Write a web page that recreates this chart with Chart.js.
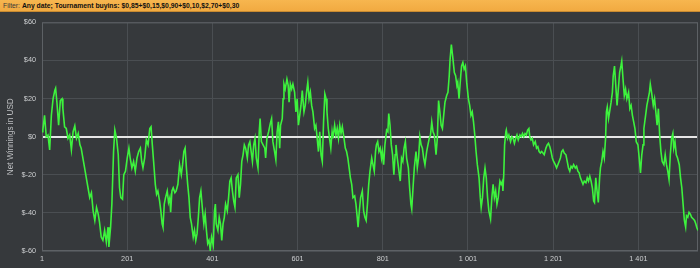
<!DOCTYPE html>
<html>
<head>
<meta charset="utf-8">
<script src="https://cdn.jsdelivr.net/npm/chart.js@4"></script>
<style>
  html, body { margin: 0; padding: 0; background: #36393c; }
  #filter {
    height: 11px;
    border-bottom: 1px solid #c88a30;
    background: linear-gradient(#f7b64f, #f1aa41);
    font-family: "Liberation Sans", Arial, sans-serif;
    font-size: 6.8px;
    line-height: 11px;
    padding-left: 3px;
    color: #111;
    white-space: nowrap;
    overflow: hidden;
  }
  #filter span { color: #3a3a3a; }
  #filter b { font-weight: 700; }
</style>
</head>
<body>
<div id="filter"><span>Filter:</span> <b>Any date; Tournament buyins: $0,85+$0,15,$0,90+$0,10,$2,70+$0,30</b></div>
<canvas id="chart" width="700" height="256"></canvas>
<script>
// game number and net winnings (USD)
const games = [
  1, 3, 7, 11, 15, 19, 23, 27, 31, 33, 36, 40, 44, 48, 50, 54, 58, 62, 66, 70,
  74, 78, 82, 86, 90, 93, 97, 101, 105, 109, 113, 117, 121, 125, 129, 133, 136, 140, 144, 148,
  152, 156, 158, 162, 165, 169, 172, 176, 180, 183, 186, 190, 193, 197, 201, 205, 208, 212, 216, 220,
  224, 228, 232, 235, 238, 242, 246, 250, 254, 257, 260, 263, 267, 270, 273, 277, 280, 283, 285, 288,
  291, 295, 298, 301, 303, 306, 309, 313, 316, 320, 324, 328, 331, 334, 337, 340, 343, 346, 349, 352,
  356, 359, 362, 365, 368, 371, 374, 378, 381, 384, 387, 390, 393, 396, 399, 403, 406, 408, 410, 414,
  417, 420, 423, 426, 429, 432, 436, 439, 442, 445, 448, 451, 454, 457, 461, 464, 467, 470, 473, 476,
  479, 483, 486, 489, 492, 495, 498, 501, 504, 508, 511, 513, 516, 520, 524, 526, 529, 533, 537, 540,
  543, 547, 550, 553, 556, 559, 561, 565, 567, 569, 572, 576, 579, 581, 584, 587, 590, 594, 597, 600,
  603, 606, 609, 612, 616, 619, 622, 625, 628, 631, 634, 637, 641, 644, 647, 650, 653, 656, 659, 662,
  665, 668, 670, 673, 677, 679, 682, 684, 688, 691, 694, 697, 700, 703, 706, 710, 713, 716, 719, 722,
  725, 728, 731, 735, 738, 741, 743, 746, 749, 753, 756, 759, 762, 765, 768, 771, 775, 778, 781, 784,
  786, 789, 792, 795, 798, 800, 803, 806, 810, 813, 815, 818, 821, 824, 827, 830, 832, 835, 839, 842,
  845, 848, 851, 854, 857, 861, 864, 867, 869, 872, 875, 879, 882, 885, 888, 891, 894, 897, 900, 904,
  907, 910, 913, 916, 919, 922, 926, 929, 932, 935, 938, 941, 944, 947, 951, 954, 957, 959, 962, 965,
  969, 972, 975, 977, 980, 984, 986, 989, 992, 995, 998, 1002, 1005, 1008, 1011, 1014, 1017, 1020, 1023, 1027,
  1030, 1032, 1035, 1038, 1041, 1044, 1047, 1050, 1054, 1057, 1060, 1063, 1066, 1069, 1072, 1076, 1079, 1082, 1083, 1085,
  1087, 1090, 1091, 1094, 1097, 1101, 1104, 1107, 1110, 1113, 1116, 1119, 1123, 1126, 1129, 1132, 1135, 1138, 1141, 1144,
  1146, 1149, 1152, 1155, 1159, 1162, 1165, 1168, 1171, 1174, 1177, 1180, 1184, 1187, 1190, 1193, 1196, 1199, 1202, 1206,
  1209, 1212, 1215, 1218, 1221, 1224, 1227, 1231, 1234, 1237, 1240, 1243, 1246, 1249, 1253, 1256, 1259, 1262, 1265, 1268,
  1271, 1274, 1278, 1281, 1284, 1287, 1290, 1293, 1296, 1298, 1301, 1304, 1307, 1310, 1312, 1315, 1318, 1321, 1324, 1326,
  1328, 1331, 1334, 1337, 1340, 1342, 1345, 1348, 1351, 1354, 1357, 1360, 1362, 1365, 1368, 1371, 1374, 1378, 1381, 1384,
  1387, 1390, 1393, 1396, 1400, 1403, 1406, 1409, 1412, 1414, 1418, 1421, 1424, 1427, 1429, 1432, 1436, 1439, 1442, 1445,
  1448, 1451, 1454, 1457, 1461, 1464, 1467, 1470, 1473, 1476, 1479, 1482, 1484, 1487, 1490, 1493, 1497, 1500, 1503, 1506,
  1509, 1512, 1514, 1517, 1520, 1523, 1526, 1530, 1533, 1536, 1538, 1541
];
const net = [
  2.6, 3.5, 11.2, 0, 0.9, -6.9, 11.2, 19.9, 24.2, 25.4, 18.1, 6, 19, 19.9, 14.7, 5.2, 4.3, -0.9, 0.9, -6.9,
  2.6, 5.7, -0.9, 1.7, -4.3, -6, -11.2, -16.4, -21.6, -26.8, -32, -29.4, -38.9, -44, -37.1, -40.6, -44.9, -52.7, -54.4, -49.2,
  -55.3, -47.5, -57.9, -47.5, -35.4, -7.8, 3.5, -0.9, -9.5, -26.8, -32, -32.8, -19.9, -18.1, -11.2, -6, -11.2, -16.4, -13, -18.1,
  -11.2, -7.8, -6, -13, -16.4, -11.2, -1.7, -4.3, 4.3, 5.2, -4.3, -13, -25, -30.2, -28.5, -33.7, -38.9, -45.8, -47.5, -35.4,
  -32, -28.5, -34.5, -32, -39.7, -28.5, -26.8, -29.4, -28.5, -25, -14.7, -19.9, -14.7, -7.8, -6, -16.4, -25, -32, -42.3, -45.8,
  -52.7, -49.2, -54.4, -50.9, -42.3, -32, -28.5, -38.9, -45.8, -40.6, -49.2, -56.1, -54.4, -59.6, -52.7, -57, -38.9, -35.4, -45.8, -49.2,
  -42.3, -45.8, -54.4, -45.8, -42.3, -35.4, -38.9, -32, -23.3, -21.6, -28.5, -33.7, -37.1, -21.6, -19.9, -32, -25, -13, -9.5, -4.3,
  -6, -11.2, -4.3, -2.6, -7.8, -13, -4.3, -0.9, -11.2, -16.4, 2.6, 9.5, -2.6, -4.3, -6, -11.2, -0.9, 2.6, 6.9, 9.5,
  -2.6, -7.8, -12.1, 2.6, 7.8, -6, 6, 9.5, 19.9, 27.6, 25, 30.2, 26.8, 18.1, 27.6, 25, 27.6, 23.3, 13, 19.9,
  6, 11.2, 16.4, 24.2, 13, 16.4, 23.3, 28.5, 19.9, 23.3, 16.4, 13, 4.3, 6, -0.9, -7.8, 2.6, -9.5, -13, 7.8,
  22.5, 19.9, 13, 4.3, -2.6, -6, 2.6, -0.9, 6, 0.9, 4.3, -0.9, 6, 1.7, 5.2, -0.9, -6, -7.8, -11.2, -16.4,
  -21.6, -25, -32, -31.1, -35.4, -42.3, -47.5, -38.9, -32, -28.5, -38.9, -42.3, -44, -35.4, -25, -18.1, -11.2, -14.7, -18.1, -7.8,
  -4.3, -2.6, -7.8, -6, -11.2, -7.8, -14.7, -4.3, 3.5, 2.6, 12.1, 6, -4.3, -9.5, -19.9, -9.5, -4.3, -11.2, -18.1, -23.3,
  -11.2, -13, -6, -2.6, -11.2, -16.4, -26.8, -35.4, -38, -26.8, -16.4, -7.8, -16.4, -11.2, 0, -4.3, -6, -11.2, -14.7, -7.8,
  -4.3, -0.9, 0.9, 7.8, 2.6, 0.9, -9.5, -0.9, 19, 13, 6, 4.3, 11.2, 18.1, 21.6, 23.3, 32, 40.6, 48.4, 42.3,
  33.7, 32, 26.8, 28.5, 19.9, 32, 37.1, 38.9, 35.4, 37.1, 28.5, 19.9, 16.4, 11.2, 13, 7.8, 0.9, -7.8, -14.7, -21.6,
  -32, -37.1, -32, -21.6, -16.4, -21.6, -32, -38.9, -43.2, -32, -25, -32, -28.5, -35.4, -32, -23.3, -25, -23.3, -28.5, -19.9,
  -4.3, 2.6, 3.5, -0.9, 0.9, -2.6, 0, -0.9, -3.5, -0.9, 0.9, -1.7, 0.9, 0, 1.7, 0, 1.7, 0.9, 3.5, 4.3,
  0, -1.7, -0.9, -4.3, -2.6, -6, -5.2, -7.8, -8.6, -7.8, -8.6, -9.5, -6, -4.3, -3.5, -5.2, -7.8, -11.2, -13, -14.7,
  -16.4, -14.7, -13, -11.2, -7.8, -6.9, -8.6, -9.5, -13, -16.4, -18.1, -15.5, -16.4, -14.7, -16.4, -15.5, -18.1, -19, -21.6, -23.3,
  -25, -23.3, -24.2, -21.6, -23.3, -20.7, -23.3, -26.8, -33.7, -34.5, -21.6, -28.5, -34.5, -21.6, -16.4, -13, -7.8, -11.2, -0.9, 13,
  15.5, 9.5, 13.8, 18.1, 23.3, 32, 37.1, 26.8, 16.4, 25, 33.7, 37.1, 39.7, 30.2, 21.6, 25, 19.9, 23.3, 14.7, 16.4,
  11.2, 7.8, 4.3, -2.6, -4.3, -11.2, -19, -9.5, -4.3, 4.3, 11.2, 16.4, 19.9, 23.3, 27.6, 23.3, 16.4, 19.9, 13, 6,
  14.7, 0.9, -7.8, -13, -14.7, -9.5, -14.7, -18.1, -22.5, -9.5, -0.9, 1.7, -6, -2.6, -9.5, -11.2, -14.7, -21.6, -26.8, -35.4,
  -44, -47.5, -41.5, -42.3, -39.7, -40.6, -42.3, -43.2, -44, -45.8, -47.5, -49.2
];
const xTicks = [1, 201, 401, 601, 801, 1001, 1201, 1401];
const xTickLabels = ["1", "201", "401", "601", "801", "1 001", "1 201", "1 401"];
const yTicks = [-60, -40, -20, 0, 20, 40, 60];

const plotFrame = {
  id: "plotFrame",
  beforeDatasetsDraw(chart) {
    const { ctx, chartArea: a } = chart;
    ctx.save();
    ctx.strokeStyle = "#5d6165";
    ctx.lineWidth = 1;
    ctx.strokeRect(a.left + 0.5, a.top + 0.5, a.right - a.left - 1, a.bottom - a.top - 1);
    ctx.restore();
  },
};

const tickFont = { family: "'Liberation Sans', Arial, sans-serif", size: 7.3 };

new Chart(document.getElementById("chart"), {
  type: "line",
  data: {
    datasets: [
      {
        data: games.map((g, i) => ({ x: g, y: net[i] })),
        borderColor: "#3df23d",
        borderWidth: 1.6,
        pointRadius: 0,
        tension: 0,
      },
    ],
  },
  options: {
    responsive: false,
    animation: false,
    layout: { padding: { top: 7, right: 2, left: 0, bottom: 0 } },
    scales: {
      x: {
        type: "linear",
        min: 1,
        max: 1541,
        afterBuildTicks: (scale) => {
          scale.ticks = xTicks.map((v) => ({ value: v }));
        },
        afterFit: (scale) => {
          scale.height = 17;
        },
        ticks: {
          color: "#cdcfd1",
          font: tickFont,
          padding: 4,
          maxRotation: 0,
          autoSkip: false,
          callback: (v) => xTickLabels[xTicks.indexOf(v)],
        },
        grid: { color: "#4a4e52", drawTicks: false },
        border: { display: false },
      },
      y: {
        min: -60,
        max: 60,
        afterBuildTicks: (scale) => {
          scale.ticks = yTicks.map((v) => ({ value: v }));
        },
        afterFit: (scale) => {
          scale.width = 42;
        },
        ticks: {
          color: "#cdcfd1",
          font: tickFont,
          padding: 6,
          callback: (v) => (v < 0 ? "$-" + Math.abs(v) : "$" + v),
        },
        grid: {
          drawTicks: false,
          color: (c) => (c.tick && c.tick.value === 0 ? "#e6e6e6" : "#4a4e52"),
          lineWidth: (c) => (c.tick && c.tick.value === 0 ? 2 : 1),
        },
        border: { display: false },
        title: {
          display: true,
          text: "Net Winnings in USD",
          color: "#bdbfc1",
          font: { family: "'Liberation Sans', Arial, sans-serif", size: 8.2 },
          padding: { top: 6, bottom: 0 },
        },
      },
    },
    plugins: {
      legend: { display: false },
      tooltip: { enabled: false },
    },
  },
  plugins: [plotFrame],
});
</script>
</body>
</html>
